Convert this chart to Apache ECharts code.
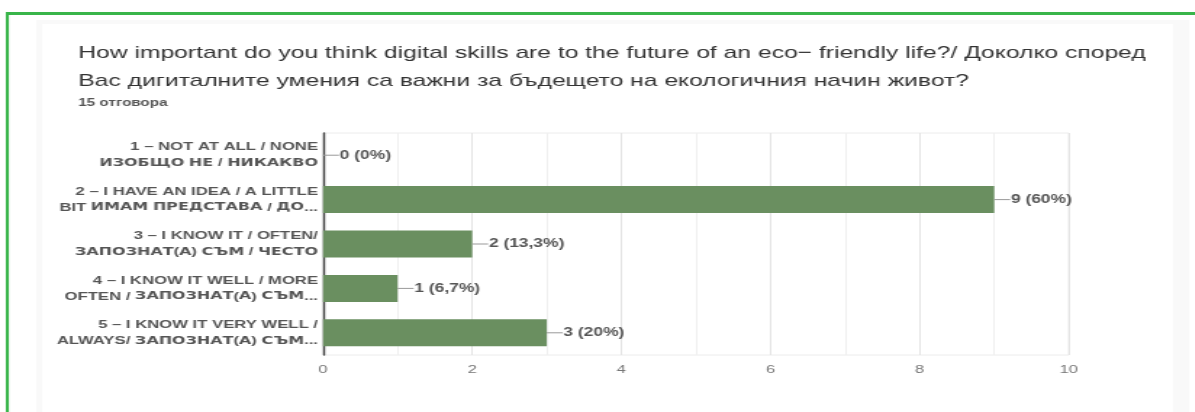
<!DOCTYPE html>
<html>
<head>
<meta charset="utf-8">
<script src="https://cdn.jsdelivr.net/npm/echarts@6/dist/echarts.min.js"></script>
<style>
  html, body { margin: 0; padding: 0; background: #fff; overflow: hidden; }
  /* the chart is laid out narrow and widened horizontally to the 1195px frame */
  #chart { width: 824px; height: 412px; transform: scaleX(1.45); transform-origin: 0 0; }
</style>
</head>
<body>
<div id="chart"></div>
<script>
// Survey answers (Google Forms style summary)
const categories = [
  '1 – NOT AT ALL / NONE\nИЗОБЩО НЕ / НИКАКВО',
  '2 – I HAVE AN IDEA / A LITTLE\nBIT ИМАМ ПРЕДСТАВА / ДО...',
  '3 – I KNOW IT / OFTEN/\nЗАПОЗНАТ(А) СЪМ / ЧЕСТО',
  '4 – I KNOW IT WELL / MORE\nOFTEN / ЗАПОЗНАТ(А) СЪМ...',
  '5 – I KNOW IT VERY WELL /\nALWAYS/ ЗАПОЗНАТ(А) СЪМ...'
];
const counts = [0, 9, 2, 1, 3];
const percents = ['0%', '60%', '13,3%', '6,7%', '20%'];
const xTicks = [0, 2, 4, 6, 8, 10];

const titleText = 'How important do you think digital skills are to the future of an eco\u2212 friendly life?/ Доколко според\nВас дигиталните умения са важни за бъдещето на екологичния начин живот?';
const subText = '15 отговора';

const FONT = 'Liberation Sans, Arial, sans-serif';

// Cyrillic words in the category labels use a wider face
const cyr = s => s.replace(/[\u0400-\u04FF]+/g, m => '{c|' + m + '}');

const chart = echarts.init(document.getElementById('chart'));
chart.setOption({
  backgroundColor: '#ffffff',
  animation: false,
  graphic: [
    // card background
    { type: 'rect', left: 25, top: 20, shape: { width: 795, height: 400 }, style: { fill: '#f9f9f9' }, z: -10 },
    { type: 'rect', left: 29, top: 24, shape: { width: 780, height: 400 }, style: { fill: '#ffffff' }, z: -9 },
    // green frame
    { type: 'rect', left: 4, top: 12, shape: { width: 830, height: 3 }, style: { fill: '#39b54a' }, z: 10 },
    { type: 'rect', left: 4, top: 12, shape: { width: 2.1, height: 400 }, style: { fill: '#39b54a' }, z: 10 }
  ],
  title: {
    text: titleText,
    subtext: subText,
    left: 49,
    top: 34,
    itemGap: 3,
    textStyle: {
      fontFamily: FONT,
      fontSize: 17,
      fontWeight: 'normal',
      color: '#333',
      lineHeight: 28
    },
    subtextStyle: {
      fontFamily: FONT,
      fontSize: 10.5,
      fontWeight: 'bold',
      color: '#555'
    }
  },
  grid: {
    left: 222.8, right: 86.9, top: 133, bottom: 57,
    show: true, borderColor: '#ececec', borderWidth: 1
  },
  xAxis: {
    type: 'value',
    min: 0, max: 10, interval: 2,
    axisLine: { show: false },
    axisTick: { show: false },
    axisLabel: {
      color: '#777', fontSize: 11.5, margin: 9,
      fontFamily: FONT,
      formatter: v => xTicks.includes(v) ? String(v) : ''
    },
    splitLine: { show: true, lineStyle: { color: '#e4e4e4', width: 1 } },
    minorTick: { show: false, splitNumber: 2 },
    minorSplitLine: { show: true, lineStyle: { color: '#f0f0f0', width: 1 } }
  },
  yAxis: {
    type: 'category',
    inverse: true,
    data: categories,
    axisLine: { show: true, lineStyle: { color: '#444', width: 1.4 } },
    axisTick: { show: false },
    axisLabel: {
      color: '#555', fontSize: 11.5, fontWeight: 'bold', lineHeight: 16, margin: 3.5,
      align: 'right',
      fontFamily: FONT,
      formatter: v => cyr(v),
      rich: {
        c: { color: '#555', fontSize: 11, fontWeight: 'bold', lineHeight: 16, fontFamily: 'DejaVu Sans' }
      }
    },
    splitLine: { show: false }
  },
  series: [{
    type: 'bar',
    data: counts,
    barWidth: 27,
    itemStyle: { color: '#6a8f60' },
    label: {
      show: true,
      position: 'right',
      distance: 0,
      formatter: p => '{ln|}{t|' + p.value + ' (' + percents[p.dataIndex] + ')}',
      rich: {
        ln: { width: 11, height: 1, backgroundColor: '#999' },
        t: { color: '#555', fontSize: 12, fontWeight: 'bold', padding: [0, 0, 0, 0.5], fontFamily: FONT }
      }
    }
  }]
});
</script>
</body>
</html>
